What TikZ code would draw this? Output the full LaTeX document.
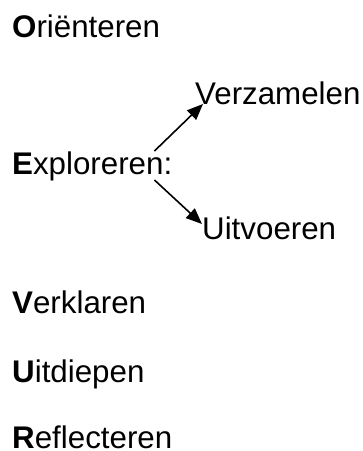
\documentclass[tikz,border=0pt]{standalone}
\usepackage{fontspec}
\setmainfont{Liberation Sans}
\usetikzlibrary{arrows.meta}
\begin{document}
\begin{tikzpicture}[x=1pt,y=-1pt,
 stage/.style={anchor=base west,inner sep=0pt,font=\fontsize{31.3}{36}\selectfont},
 pijl/.style={-{Triangle[length=16pt,width=13pt]},line width=1.6pt}]
\useasboundingbox (0,0) rectangle (363,451);
\node[stage] (o) at (12,37) {\textbf{O}riënteren};
\node[stage] (e) at (12,174) {\textbf{E}xploreren:};
\node[stage] (v) at (12,313) {\textbf{V}erklaren};
\node[stage] (u) at (12,382) {\textbf{U}itdiepen};
\node[stage] (r) at (12,448) {\textbf{R}eflecteren};
\node[stage] (verz) at (195,104) {Verzamelen};
\node[stage] (uitv) at (202,239) {Uitvoeren};
\draw[pijl] ([shift={(-18,-23)}]e.base east) -- ([shift={(8,0)}]verz.base west);
\draw[pijl] ([shift={(-18,6)}]e.base east) -- ([shift={(0,-15)}]uitv.base west);
\end{tikzpicture}
\end{document}
